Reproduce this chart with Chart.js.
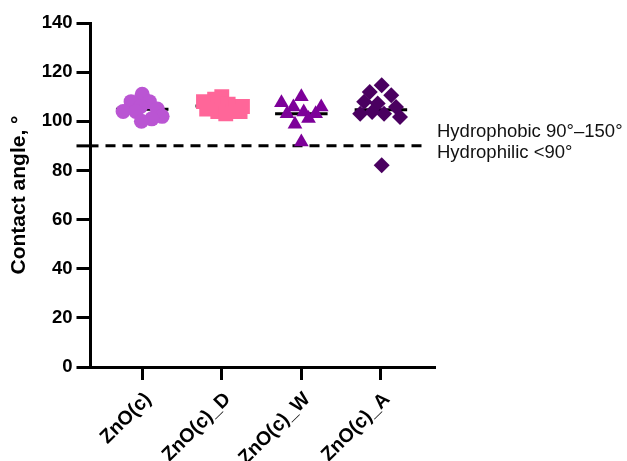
<!DOCTYPE html>
<html>
<head>
<meta charset="utf-8">
<script src="https://cdn.jsdelivr.net/npm/chart.js@4.4.1/dist/chart.umd.min.js"></script>
<style>
  html, body { margin: 0; padding: 0; background: #fff; }
  #wrap { width: 627px; height: 461px; }
</style>
</head>
<body>
<div id="wrap"><canvas id="angleChart"></canvas></div>
<script>
// groups on the x axis
const groups = ['ZnO(c)', 'ZnO(c)_D', 'ZnO(c)_W', 'ZnO(c)_A'];

// contact angles per group (deg) and the sideways spread of each dot
const znoValues = [111, 108, 108, 106, 105, 104, 104, 102, 101, 100];
const znoSpread = [0, -0.14, 0.09, -0.02, 0.19, -0.24, -0.08, 0.25, 0.12, -0.01];

const znoDValues = [110, 109, 108, 107, 106, 106, 105, 104, 104, 103];
const znoDSpread = [0, -0.09, -0.23, 0.08, 0.18, 0.26, -0.19, -0.05, 0.23, 0.05];

const znoWValues = [110, 107.5, 105.8, 105.8, 103.1, 103.1, 103.8, 98.8, 101.1, 91.6];
const znoWSpread = [0, -0.25, -0.1, 0.25, -0.18, 0.18, 0.03, -0.08, 0.09, 0];

const znoAValues = [114.7, 111.9, 110.6, 107.9, 107.2, 105.8, 103.1, 103.8, 103.1, 101.7, 82.1];
const znoASpread = [0.01, -0.14, 0.13, -0.21, -0.04, 0.19, -0.26, -0.11, 0.04, 0.24, 0.01];

const yTicks = [0, 20, 40, 60, 80, 100, 120, 140];
const threshold = 90;
const aboveLabel = 'Hydrophobic 90°–150°';
const belowLabel = 'Hydrophilic <90°';

const series = [
  { values: znoValues, spread: znoSpread, color: '#BA55D3', shape: 'circle', r: 7.5 },
  { values: znoDValues, spread: znoDSpread, color: '#FF6699', shape: 'rect', r: 10.5 },
  { values: znoWValues, spread: znoWSpread, color: '#7D0099', shape: 'triangle', r: 8.5 },
  { values: znoAValues, spread: znoASpread, color: '#4A0060', shape: 'rectRot', r: 8 }
];

const FONT = '"Liberation Sans", Arial, sans-serif';

const datasets = [];
series.forEach((s, i) => {
  const pos = i + 1;
  datasets.push({
    type: 'scatter',
    label: groups[i],
    data: s.values.map((v, k) => ({ x: pos + s.spread[k], y: v })),
    pointStyle: s.shape,
    pointRadius: s.r,
    pointHoverRadius: s.r,
    pointBackgroundColor: s.color,
    pointBorderWidth: 0,
    order: 0
  });
  const mean = s.values.reduce((a, b) => a + b, 0) / s.values.length;
  datasets.push({
    type: 'line',
    label: groups[i] + ' mean',
    data: [{ x: pos - 0.33, y: mean }, { x: pos + 0.33, y: mean }],
    borderColor: '#000',
    borderWidth: 3,
    pointRadius: 0,
    order: 1
  });
});

// dashed 90° line and its two labels
const thresholdLine = {
  id: 'thresholdLine',
  beforeDatasetsDraw(chart) {
    const ctx = chart.ctx;
    const area = chart.chartArea;
    const y = chart.scales.y.getPixelForValue(threshold);
    const start = area.left - 14;
    const end = area.right - 9;
    ctx.save();
    ctx.strokeStyle = '#000';
    ctx.lineWidth = 3;
    ctx.beginPath();
    ctx.moveTo(start, y);
    ctx.lineTo(area.left + 8, y);
    ctx.stroke();
    ctx.setLineDash([10, 7]);
    ctx.beginPath();
    ctx.moveTo(area.left + 15, y);
    ctx.lineTo(end, y);
    ctx.stroke();
    ctx.restore();
  },
  afterDraw(chart) {
    const ctx = chart.ctx;
    const area = chart.chartArea;
    const y = chart.scales.y.getPixelForValue(threshold);
    ctx.save();
    ctx.fillStyle = '#111';
    ctx.font = '18.5px ' + FONT;
    ctx.textAlign = 'left';
    ctx.textBaseline = 'middle';
    ctx.fillText(aboveLabel, area.right + 2, y - 14);
    ctx.fillText(belowLabel, area.right + 2, y + 7);
    ctx.restore();
  }
};

new Chart(document.getElementById('angleChart'), {
  data: { datasets: datasets },
  options: {
    responsive: true,
    maintainAspectRatio: false,
    animation: false,
    layout: { padding: { top: 23, right: 192, left: 0, bottom: 0 } },
    plugins: { legend: { display: false }, tooltip: { enabled: false } },
    scales: {
      x: {
        type: 'linear',
        min: 0.35,
        max: 4.68,
        afterBuildTicks: scale => { scale.ticks = groups.map((g, i) => ({ value: i + 1 })); },
        afterFit: scale => { scale.height = 94; },
        border: { display: true, color: '#000', width: 3 },
        grid: { drawOnChartArea: false, drawTicks: true, tickLength: 13, tickWidth: 3, tickColor: '#000' },
        ticks: {
          autoSkip: false,
          minRotation: 45,
          maxRotation: 45,
          padding: 8,
          labelOffset: 6,
          color: '#000',
          font: { family: FONT, size: 19.5, weight: 'bold' },
          callback: v => groups[v - 1]
        }
      },
      y: {
        type: 'linear',
        min: 0,
        max: 140,
        afterBuildTicks: scale => { scale.ticks = yTicks.map(v => ({ value: v })); },
        afterFit: scale => { scale.width = 90.5; },
        border: { display: true, color: '#000', width: 3 },
        grid: { drawOnChartArea: false, drawTicks: true, tickLength: 14, tickWidth: 3, tickColor: '#000' },
        ticks: {
          padding: 4,
          color: '#000',
          font: { family: FONT, size: 18.5, weight: 'bold' }
        },
        title: {
          display: true,
          text: 'Contact angle, °',
          color: '#000',
          padding: { top: 7, bottom: 0 },
          font: { family: FONT, size: 21, weight: 'bold' }
        }
      }
    }
  },
  plugins: [thresholdLine]
});
</script>
</body>
</html>
